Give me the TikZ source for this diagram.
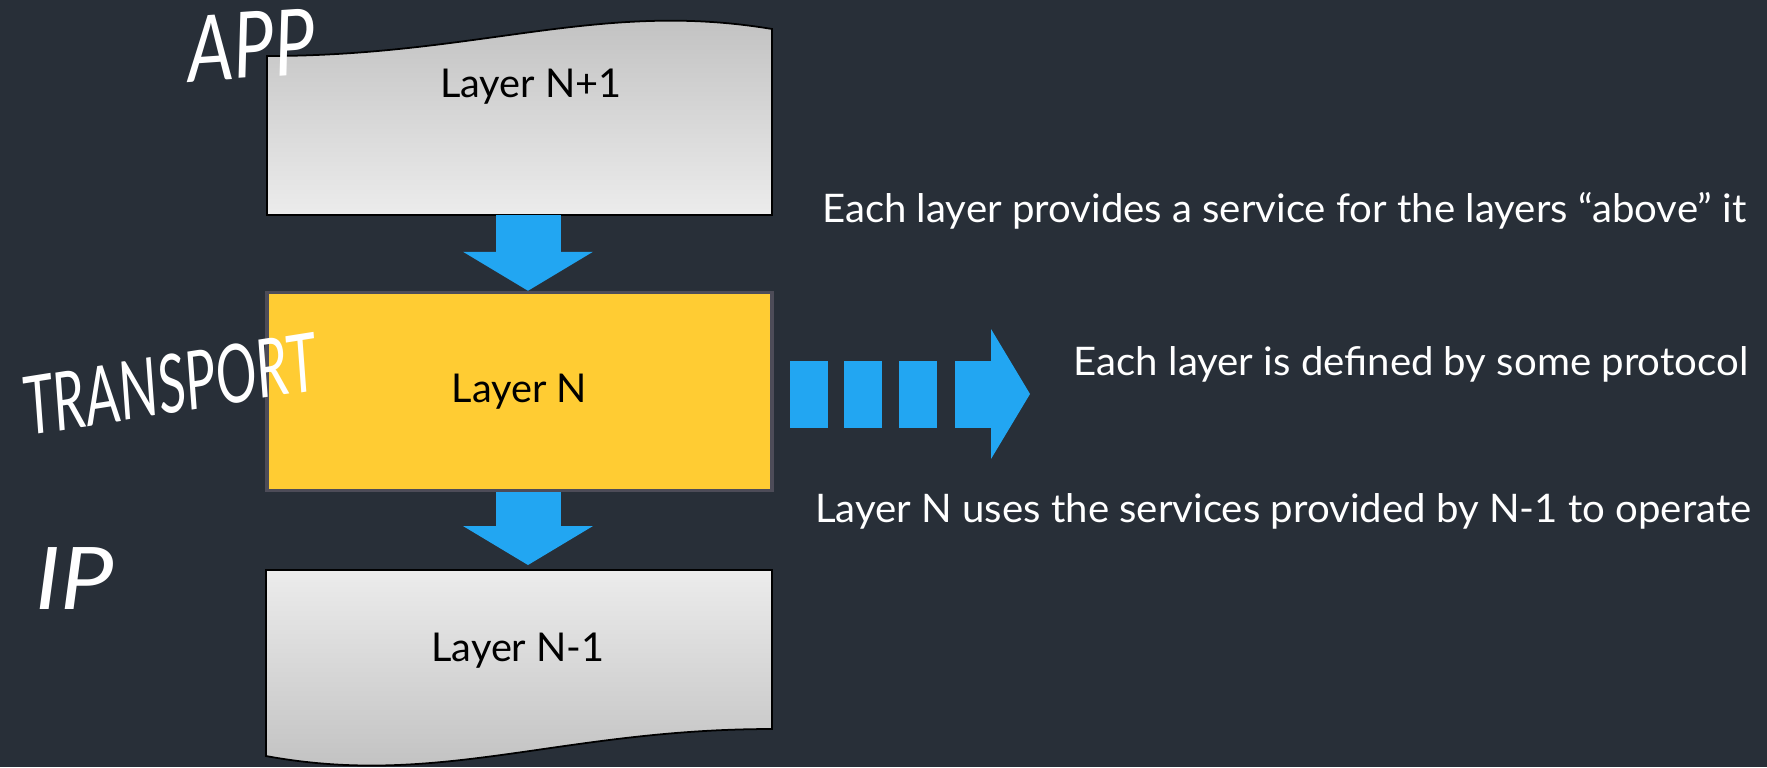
\documentclass[tikz,border=0pt]{standalone}
\usepackage{fontspec}
\setmainfont{Lato}
\usetikzlibrary{arrows.meta}
\definecolor{slate}{HTML}{282F38}
\definecolor{sky}{HTML}{22A6F2}
\definecolor{amber}{HTML}{FFCC33}
\definecolor{frame}{HTML}{4D4C58}
\definecolor{paperdark}{HTML}{BEBEBE}
\definecolor{paperlight}{HTML}{ECECEC}

\begin{document}
\begin{tikzpicture}[
  flow/.style={draw=sky,line width=0.65cm,
    -{Triangle[width=1.30cm,length=0.39cm,line width=0pt,fill=sky]}},
  layertext/.style={font=\fontsize{11.3}{13}\selectfont,text=black,anchor=base},
  note/.style={font=\fontsize{11.2}{13}\selectfont,text=white,anchor=base east,
    inner sep=0pt,xscale=1.02},
  hand/.style={font=\itshape,text=white,inner sep=0pt}]

  \fill[slate] (0,0) rectangle (17.67,-7.67);
  \useasboundingbox (0,0) rectangle (17.67,-7.67);

  % Stack of layers
  \shade[top color=paperdark,bottom color=paperlight,draw=black,line width=0.5pt]
    (2.67,-2.15) -- (2.67,-0.56) .. controls (4.79,-0.56) and (5.99,0.0)
    .. (7.72,-0.29) -- (7.72,-2.15) -- cycle;
  \node[layertext] (upper) at (5.31,-0.97) {Layer N+1};
  \node[draw=frame,fill=amber,line width=1pt,minimum width=5.05cm,
    minimum height=1.98cm,font=\fontsize{11.3}{13}\selectfont]
    (layerN) at (5.195,-3.915) {Layer N};
  \shade[top color=paperlight,bottom color=paperdark,draw=black,line width=0.5pt]
    (2.66,-5.70) -- (7.72,-5.70) -- (7.72,-7.29) .. controls (5.60,-7.29)
    and (4.40,-7.88) .. (2.66,-7.56) -- cycle;
  \node[layertext] (lower) at (5.18,-6.61) {Layer N-1};

  % Services passed down the stack
  \coordinate (upperfoot) at (5.28,-2.15);
  \coordinate (lowerhead) at (5.28,-5.65);
  \draw[flow] (upperfoot) -- (layerN.north -| upperfoot);
  \draw[flow] (layerN.south -| upperfoot) -- (lowerhead);

  % Protocol arrow
  \foreach \x in {7.90,8.44,8.99}
    \fill[sky] (\x,-3.61) rectangle ++(0.38,-0.67);
  \coordinate (dashtail) at (9.55,-3.94);
  \coordinate (dashtip) at (10.30,-3.94);
  \draw[flow,line width=0.67cm] (dashtail) -- (dashtip);

  % Notes on the right
  \node[note] (services) at (17.47,-2.22)
    {Each layer provides a service for the layers “above” it};
  \node[note] (protocol) at (17.49,-3.75)
    {Each layer is defined by some protocol};
  \node[note] (uses) at (17.52,-5.22)
    {Layer N uses the services provided by N-1 to operate};

  % Hand-written layer names
  \node[hand,font=\itshape\fontsize{26}{30}\selectfont,rotate=4,xscale=0.8]
    (app) at (2.51,-0.45) {APP};
  \node[hand,font=\itshape\fontsize{23}{27}\selectfont,rotate=9,xscale=0.68]
    (transport) at (1.70,-3.84) {TRANSPORT};
  \node[hand,font=\itshape\fontsize{24.6}{28}\selectfont,xscale=1.1]
    (ip) at (0.75,-5.79) {IP};
\end{tikzpicture}
\end{document}
